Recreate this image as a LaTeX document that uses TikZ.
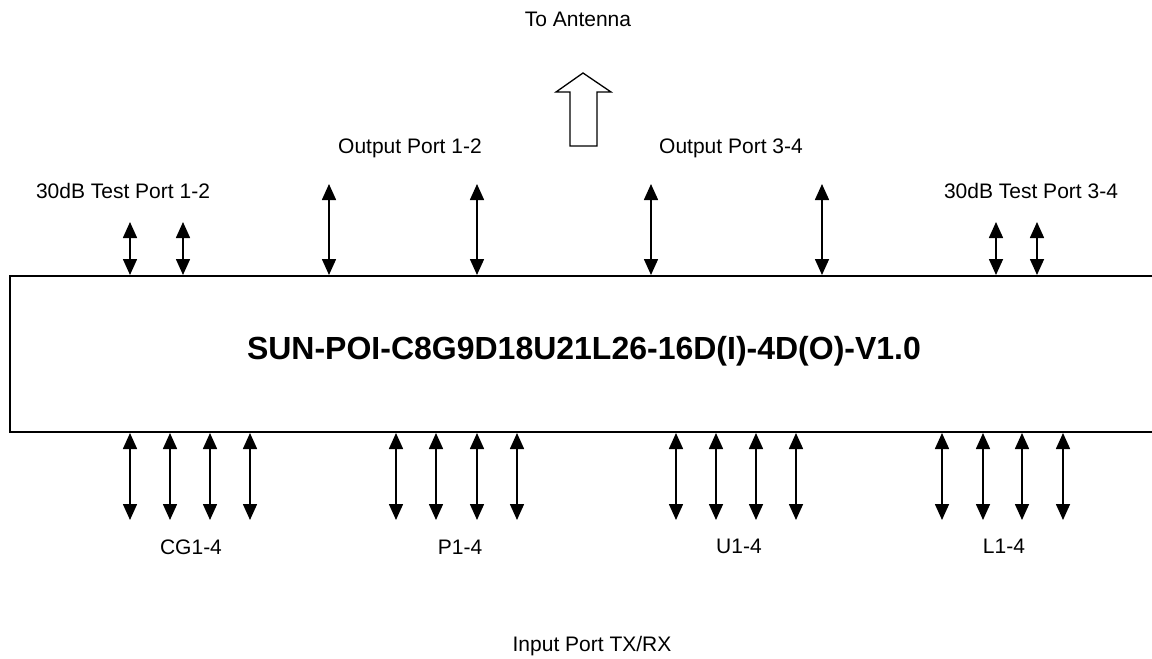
\documentclass[tikz,border=0pt]{standalone}
\usepackage{fontspec}
\setmainfont{Liberation Sans}
\usetikzlibrary{arrows.meta}
\begin{document}
\begin{tikzpicture}[x=1pt,y=-1pt,
  lbl/.style={font=\fontsize{21}{24}\selectfont, inner sep=0pt, anchor=center},
  port/.style={line width=1.6pt, {Triangle[width=14pt,length=16pt]}-{Triangle[width=14pt,length=16pt]}},
  hollow/.style={draw, line width=1.3pt, fill=white, line join=miter}]
\useasboundingbox (0,0) rectangle (1152,659);
% main box
\node[draw, line width=2pt, minimum width=1160pt, minimum height=156pt, anchor=north west, inner sep=0pt] (poi) at (9,275) {};
\node[font=\bfseries\fontsize{32}{36}\selectfont, inner sep=0pt] (title) at (584,351) {SUN-POI-C8G9D18U21L26-16D(I)-4D(O)-V1.0};
% labels
\node[lbl] (ant) at (578,19) {To Antenna};
\node[lbl] (op12) at (410,148) {Output Port 1-2};
\node[lbl] (op34) at (731,148) {Output Port 3-4};
\node[lbl] (tp12) at (123,191) {30dB Test Port 1-2};
\node[lbl] (tp34) at (1031,191) {30dB Test Port 3-4};
\node[lbl] (cg) at (191,547) {CG1-4};
\node[lbl] (p) at (460,547) {P1-4};
\node[lbl] (u) at (739,546) {U1-4};
\node[lbl] (l) at (1004,546) {L1-4};
\node[lbl] (inp) at (592,646) {Input Port TX/RX};
% hollow arrow to antenna
\draw[hollow] (570,146) -- (570,92) -- (556,92) -- (583,73) -- (611,92) -- (597,92) -- (597,146) -- cycle;
% test ports (short)
\foreach \x [count=\i] in {130,183,996,1037} {
  \coordinate (t\i) at (\x,222);
  \draw[port] (t\i) -- (t\i |- poi.north);
}
% output ports (long)
\foreach \x [count=\i] in {329,477,651,822} {
  \coordinate (o\i) at (\x,184);
  \draw[port] (o\i) -- (o\i |- poi.north);
}
% input ports
\foreach \x [count=\i] in {130,170,210,250,396,436,477,517,676,716,756,796,942,983,1022,1063} {
  \coordinate (b\i) at (\x,520);
  \draw[port] (b\i |- poi.south) -- (b\i);
}
\end{tikzpicture}
\end{document}
